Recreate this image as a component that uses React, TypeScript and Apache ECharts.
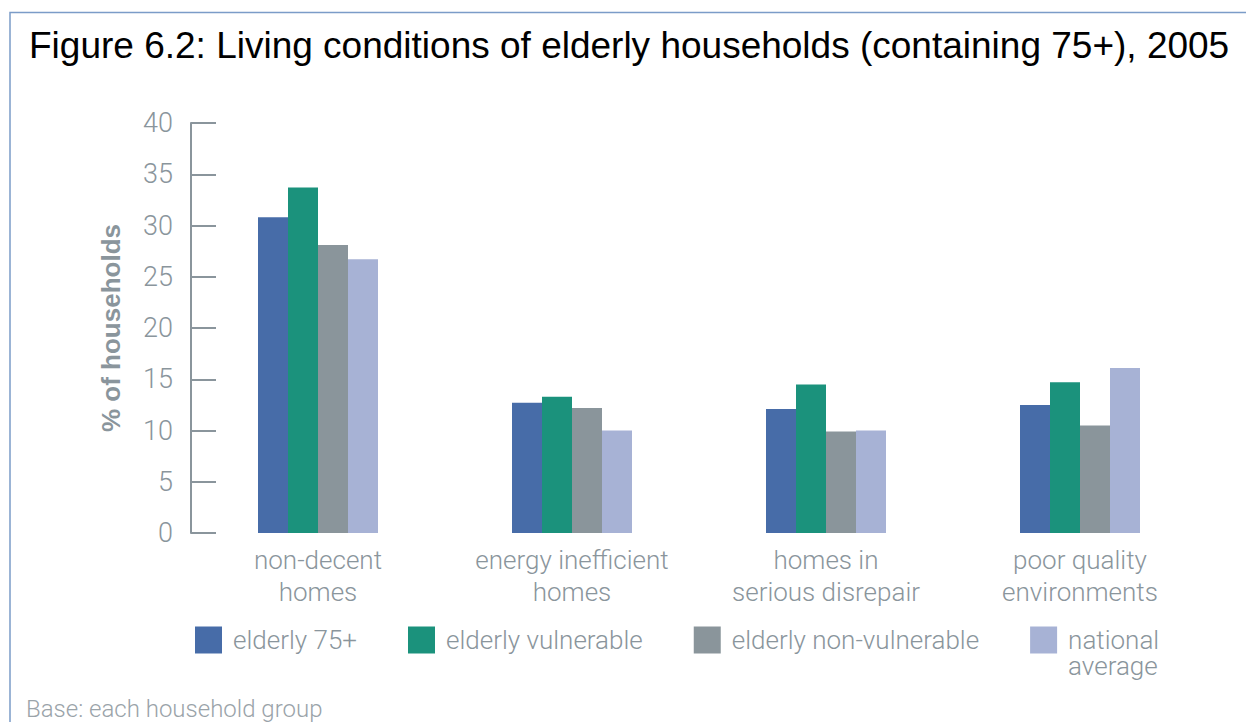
import React, { useEffect, useRef } from "react";
import * as echarts from "echarts";

const categories = [
  "non-decent\nhomes",
  "energy inefficient\nhomes",
  "homes in\nserious disrepair",
  "poor quality\nenvironments",
];
const seriesNames = [
  "elderly 75+",
  "elderly vulnerable",
  "elderly non-vulnerable",
  "national average",
];
const elderly75 = [30.8, 12.7, 12.1, 12.5];
const elderlyVulnerable = [33.7, 13.3, 14.5, 14.7];
const elderlyNonVulnerable = [28.1, 12.2, 9.9, 10.5];
const nationalAverage = [26.7, 10.0, 10.0, 16.1];
const yTicks = { min: 0, max: 40, interval: 5 };

const colors = ["#476ca8", "#1b927c", "#8a959b", "#a7b2d5"];
const grey = "#8a959c";
const lightFont = "Roboto";

export default function App() {
  const ref = useRef<HTMLDivElement>(null);
  useEffect(() => {
    document.body.style.margin = "0";
    const chart = echarts.init(ref.current!, undefined, { renderer: "svg" });
    const values = [elderly75, elderlyVulnerable, elderlyNonVulnerable, nationalAverage];
    chart.setOption({
      animation: false,
      backgroundColor: "#ffffff",
      title: {
        text: "Figure 6.2: Living conditions of elderly households (containing 75+), 2005",
        left: 24,
        top: 22,
        textStyle: {
          fontFamily: "Liberation Sans",
          fontSize: 37,
          fontWeight: "normal",
          color: "#000000",
        },
      },
      grid: { left: 191, right: 39, top: 123, bottom: 189, containLabel: false },
      legend: {
        left: 195,
        top: 601,
        padding: 0,
        itemWidth: 27,
        itemHeight: 27,
        itemGap: 51,
        icon: "rect",
        data: seriesNames,
        formatter: (name: string) =>
          name === "national average" ? "\nnational\naverage" : name,
        textStyle: {
          fontFamily: lightFont,
          fontWeight: 300,
          fontSize: 26,
          lineHeight: 26,
          color: grey,
          padding: [0, 0, 0, 6],
        },
      },
      xAxis: {
        type: "category",
        data: categories,
        axisLine: { show: false },
        axisTick: { show: false },
        axisLabel: {
          margin: 11,
          fontFamily: lightFont,
          fontWeight: 300,
          fontSize: 26,
          lineHeight: 32,
          color: grey,
        },
      },
      yAxis: {
        type: "value",
        min: yTicks.min,
        max: yTicks.max,
        interval: yTicks.interval,
        name: "% of households",
        nameLocation: "middle",
        nameGap: 67,
        nameTextStyle: {
          fontFamily: "Liberation Sans",
          fontWeight: "bold",
          fontSize: 26,
          color: grey,
        },
        axisLine: { show: true, lineStyle: { color: grey, width: 2 } },
        axisTick: { show: true, inside: true, length: 25, lineStyle: { color: grey, width: 2 } },
        splitLine: { show: false },
        axisLabel: {
          margin: 18,
          fontFamily: lightFont,
          fontWeight: 300,
          fontSize: 27,
          color: grey,
        },
      },
      series: seriesNames.map((n, i) => ({
        name: n,
        type: "bar",
        data: values[i],
        barWidth: 30,
        barGap: "0%",
        itemStyle: { color: colors[i] },
      })),
      graphic: [
        {
          type: "polyline",
          shape: { points: [[10, 722], [10, 12.5], [1246, 12.5]] },
          style: { stroke: "#7b9cc8", lineWidth: 1.5, fill: "none" },
          silent: true,
        },
        {
          type: "text",
          left: 26,
          top: 697,
          style: {
            text: "Base: each household group",
            fontFamily: lightFont,
            fontWeight: 300,
            fontSize: 24,
            fill: "#9aa3a9",
          },
        },
      ],
    });
    return () => chart.dispose();
  }, []);
  return (
    <div
      ref={ref}
      style={{ position: "absolute", left: 0, top: 0, width: 1246, height: 722 }}
    />
  );
}
